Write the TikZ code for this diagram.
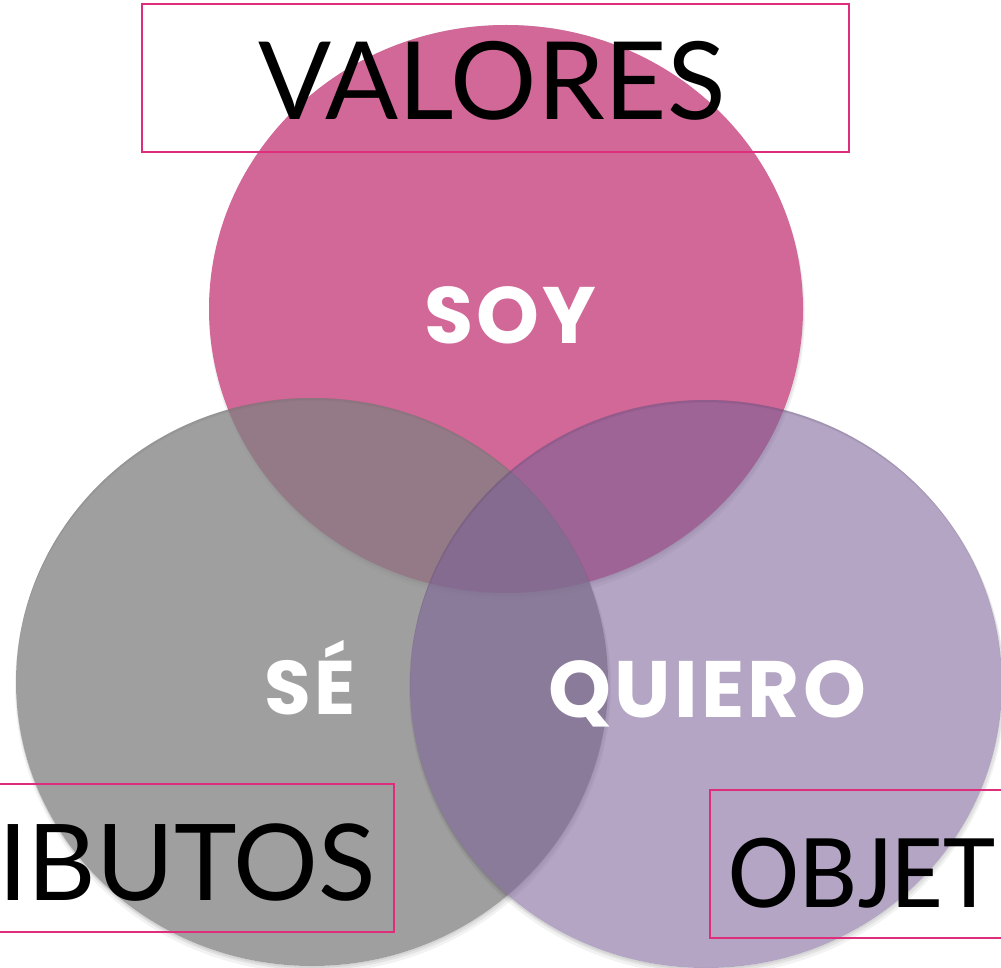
\documentclass[tikz,border=0pt]{standalone}
\usepackage{fontspec}
\setmainfont{Lato}
\newfontfamily\calib{Carlito}
\newfontfamily\pop[LetterSpace=4.2]{Poppins}
\definecolor{pinkc}{RGB}{210,104,152}
\definecolor{grayc}{RGB}{128,128,128}
\definecolor{purpc}{RGB}{122,97,150}
\definecolor{framec}{RGB}{222,45,122}
\tikzset{
  frameline/.style={draw=framec,line width=1.6pt},
  bigword/.style={inner sep=0pt,anchor=base west,text=black,font=\fontsize{108}{110}\selectfont},
  inword/.style={inner sep=0pt,anchor=base west,text=white,font=\pop\bfseries\fontsize{80}{82}\selectfont},
}
\newcommand{\ringshadow}[2]{%
  \fill[black,opacity=0.05,even odd rule] (#1+1,#2+5) ellipse (298 and 286) (#1,#2) ellipse (296 and 284);
  \fill[black,opacity=0.06,even odd rule] (#1+1,#2+3) ellipse (297 and 285) (#1,#2) ellipse (296 and 284);
  \fill[black,opacity=0.06,even odd rule] (#1,#2+2) ellipse (296 and 284) (#1,#2) ellipse (296 and 284);
}
\begin{document}
\begin{tikzpicture}[x=1pt,y=-1pt]
\useasboundingbox (0,0) rectangle (1001,968);
\clip (0,0) rectangle (1001,968);
\fill[white] (0,0) rectangle (1001,968);
% circles
\ringshadow{506}{309}
\fill[pinkc] (506,309) ellipse (297 and 284);
\ringshadow{312}{682}
\fill[grayc,opacity=0.75] (312,682) ellipse (296 and 284);
\ringshadow{706}{684}
\fill[purpc,opacity=0.57] (706,684) ellipse (296 and 284);
% frames
\draw[frameline] (142,4) rectangle (849,152);
\draw[frameline] (-5,784) rectangle (394,932);
\draw[frameline] (710,790) rectangle (1010,938);
% outer words
\node[bigword] (valores) at (258,120) {VALORES};
\node[bigword,font=\fontsize{106}{110}\selectfont] (atributos) at (-2,900) {IBUTOS};
\node[bigword,font=\calib\fontsize{107}{110}\selectfont] (objet) at (728,907) {OBJET};
% inner words
\node[inword] (soy) at (424,343) {SOY};
\node[inword,font=\pop\bfseries\fontsize{76}{78}\selectfont] (se) at (264,714) {SÉ};
\node[inword] (quiero) at (548,717) {QUIERO};
\end{tikzpicture}
\end{document}
